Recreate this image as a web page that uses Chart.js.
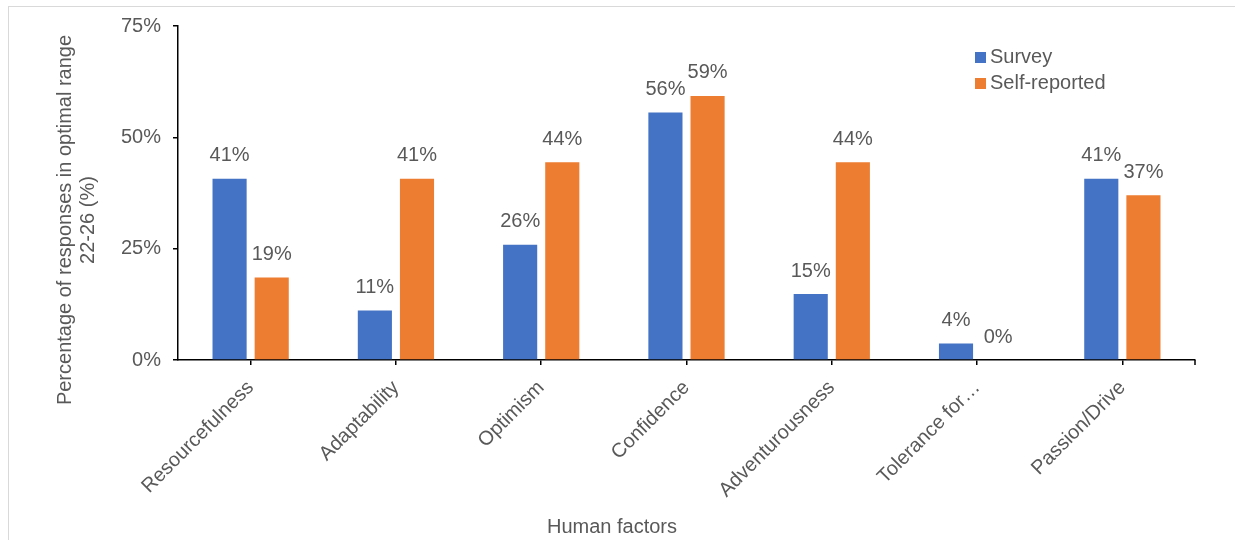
<!DOCTYPE html>
<html>
<head>
<meta charset="utf-8">
<script src="https://cdn.jsdelivr.net/npm/chart.js@4.4.1/dist/chart.umd.min.js"></script>
<style>
  html, body { margin: 0; padding: 0; background: #fff; }
  #wrap { position: relative; width: 1235px; height: 540px; overflow: hidden; }
  #frame {
    position: absolute; left: 8px; top: 6px; width: 1240px; height: 560px;
    border: 1px solid #d9d9d9; pointer-events: none;
  }
</style>
</head>
<body>
<div id="wrap">
  <canvas id="chart" width="1235" height="540"></canvas>
  <div id="frame"></div>
</div>
<script>
const categories = ['Resourcefulness', 'Adaptability', 'Optimism', 'Confidence', 'Adventurousness', 'Tolerance for\u2026', 'Passion/Drive'];
const surveyValues = [40.7, 11.1, 25.9, 55.6, 14.8, 3.7, 40.7];
const selfReportedValues = [18.5, 40.7, 44.4, 59.3, 44.4, 0, 37.0];
const yTicks = [0, 25, 50, 75];

const seriesNames = ['Survey', 'Self-reported'];
const seriesColors = ['#4472C4', '#ED7D31'];

const FONT = '"Liberation Sans", Arial, sans-serif';
const TEXT = '#595959';
const SIZE = 20;

// value labels over each bar
const barLabels = {
  id: 'barLabels',
  afterDatasetsDraw(chart) {
    const ctx = chart.ctx;
    ctx.save();
    ctx.font = `${SIZE}px ${FONT}`;
    ctx.fillStyle = TEXT;
    ctx.textAlign = 'center';
    ctx.textBaseline = 'middle';
    chart.data.datasets.forEach((ds, i) => {
      chart.getDatasetMeta(i).data.forEach((bar, j) => {
        ctx.fillText(Math.round(ds.data[j]) + '%', bar.x, bar.y - 23);
      });
    });
    ctx.restore();
  }
};

// legend, axis titles and the last x tick
const extras = {
  id: 'extras',
  afterDraw(chart) {
    const ctx = chart.ctx;
    const area = chart.chartArea;
    ctx.save();
    ctx.font = `${SIZE}px ${FONT}`;
    ctx.textBaseline = 'middle';

    // legend
    seriesNames.forEach((name, i) => {
      const y = 57 + i * 26;
      ctx.fillStyle = seriesColors[i];
      ctx.fillRect(975, y - 5, 11, 11);
      ctx.fillStyle = TEXT;
      ctx.textAlign = 'left';
      ctx.fillText(name, 990, y);
    });

    // x title
    ctx.textAlign = 'center';
    ctx.fillText('Human factors', 612, 527);

    // y title
    ctx.translate(76, 220);
    ctx.rotate(-Math.PI / 2);
    ctx.fillText('Percentage of responses in optimal range', 0, -11);
    ctx.fillText('22-26 (%)', 0, 12);
    ctx.restore();

    // closing tick at the right end of the x axis
    ctx.save();
    ctx.strokeStyle = '#000';
    ctx.lineWidth = 1.5;
    ctx.beginPath();
    ctx.moveTo(area.right, area.bottom);
    ctx.lineTo(area.right, area.bottom + 5);
    ctx.stroke();
    ctx.restore();
  }
};

new Chart(document.getElementById('chart'), {
  type: 'bar',
  data: {
    labels: categories,
    datasets: [
      { label: seriesNames[0], data: surveyValues, backgroundColor: seriesColors[0], borderWidth: 0 },
      { label: seriesNames[1], data: selfReportedValues, backgroundColor: seriesColors[1], borderWidth: 0 }
    ]
  },
  options: {
    responsive: false,
    animation: false,
    categoryPercentage: 0.58,
    barPercentage: 0.81,
    layout: { padding: { top: 26, right: 40, left: 0, bottom: 0 } },
    plugins: {
      legend: { display: false },
      tooltip: { enabled: false }
    },
    scales: {
      x: {
        afterFit: (s) => { s.height = 180; },
        grid: { offset: false, drawOnChartArea: false, drawTicks: true, tickLength: 5, color: '#000', lineWidth: 1.5 },
        border: { color: '#000', width: 1.5 },
        ticks: {
          color: TEXT,
          font: { family: FONT, size: SIZE },
          minRotation: 45,
          maxRotation: 45,
          padding: 11,
          autoSkip: false
        }
      },
      y: {
        min: 0,
        max: 75,
        afterFit: (s) => { s.width = 178; },
        afterBuildTicks: (s) => { s.ticks = yTicks.map((v) => ({ value: v })); },
        grid: { drawOnChartArea: false, drawTicks: true, tickLength: 5, color: '#000', lineWidth: 1.5 },
        border: { color: '#000', width: 1.5 },
        ticks: {
          color: TEXT,
          font: { family: FONT, size: SIZE },
          padding: 12,
          callback: (v) => v + '%'
        }
      }
    }
  },
  plugins: [barLabels, extras]
});
</script>
</body>
</html>
